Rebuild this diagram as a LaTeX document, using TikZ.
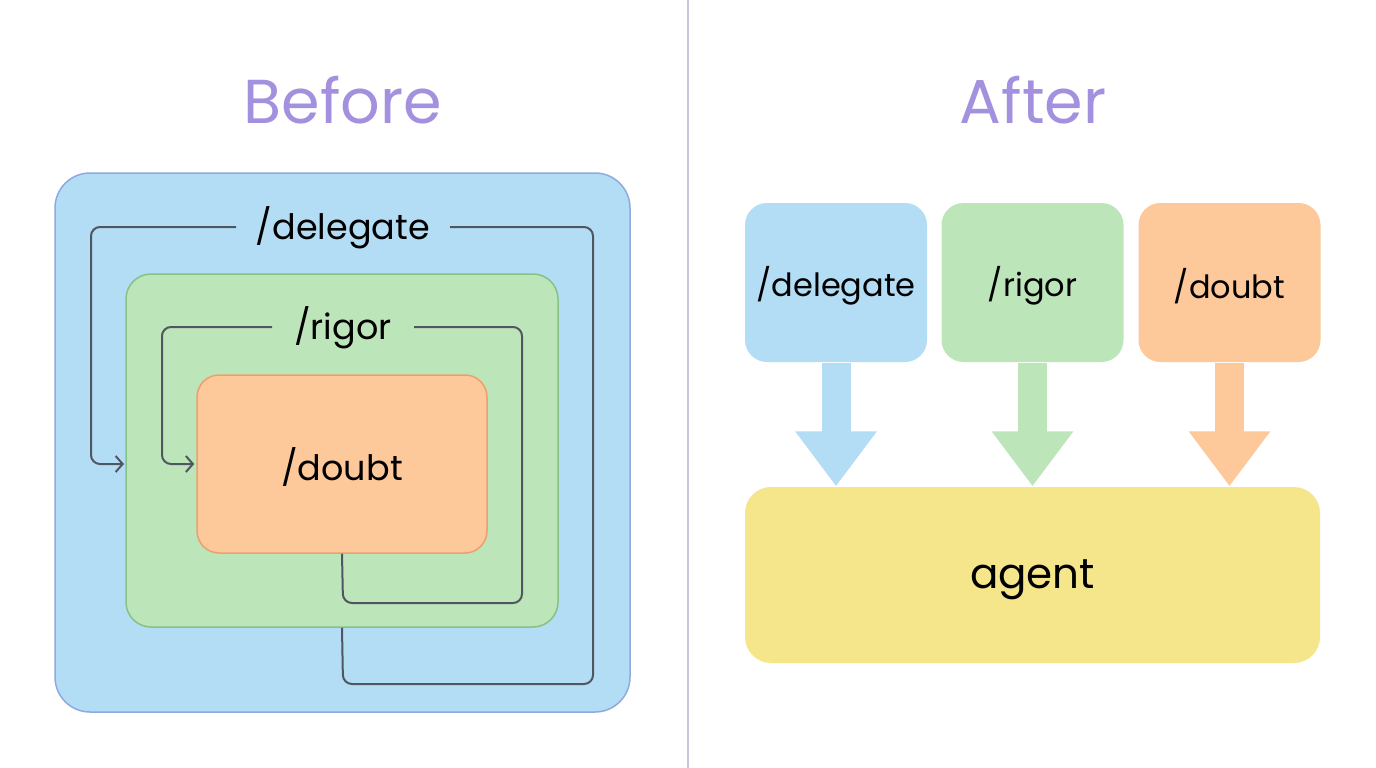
\documentclass[tikz,border=0pt]{standalone}
\usepackage{fontspec}
\setmainfont{Poppins}
\usetikzlibrary{arrows.meta}
\definecolor{bluef}{HTML}{B3DCF5}
\definecolor{blued}{HTML}{8EAADF}
\definecolor{greenf}{HTML}{BDE5BA}
\definecolor{greend}{HTML}{86C284}
\definecolor{orangef}{HTML}{FDC89A}
\definecolor{oranged}{HTML}{EDA06E}
\definecolor{yellowf}{HTML}{F5E68C}
\definecolor{titlec}{HTML}{A390DE}
\definecolor{linec}{HTML}{50565F}
\definecolor{divc}{HTML}{C9C5DD}
\begin{document}
\begin{tikzpicture}[x=1pt,y=-1pt,
  box/.style={rectangle, line width=1.5pt, inner sep=0pt},
  title/.style={font=\fontsize{62}{70}\selectfont, text=titlec},
  lbl/.style={font=\fontsize{35}{40}\selectfont, text=black, inner sep=0pt},
  rlbl/.style={font=\fontsize{32}{38}\selectfont, text=black, inner sep=0pt},
  loopline/.style={draw=linec, line width=2pt, rounded corners=9pt},
  fat/.style={line width=29pt, -{Triangle[length=55pt,width=78pt]}}]
\useasboundingbox[fill=white] (0,0) rectangle (1376,768);
% divider
\coordinate (dtop) at (688,0);
\coordinate (dbot) at (688,768);
\draw[divc, line width=2pt] (dtop) -- (dbot);
% titles
\node[title] (tbefore) at (343,100) {Before};
\node[title] (tafter) at (1033,100) {After};
% left nested boxes
\node[box, fill=bluef, draw=blued, rounded corners=35pt, minimum width=575pt, minimum height=539pt] (outer) at (342.5,442.5) {};
\node[box, fill=greenf, draw=greend, rounded corners=25pt, minimum width=432pt, minimum height=353pt] (mid) at (342,450.5) {};
\node[box, fill=orangef, draw=oranged, rounded corners=22pt, minimum width=290pt, minimum height=178pt] (inner) at (342,464) {};
\node[lbl] (ldel) at (343,228) {/delegate};
\node[lbl] (lrig) at (343,328) {/rigor};
\node[lbl] (ldou) at (342,467) {/doubt};
% delegate loop
\coordinate (dA) at (236,227);
\coordinate (dB) at (450,227);
\coordinate (midin) at (124,464);
\draw[loopline, -{Straight Barb[length=7pt,width=16pt]}] (dA) -- (91,227) -- (91,464) -- (midin);
\draw[loopline] (dB) -- (593,227) -- (593,684) -- (343,684) -- (mid.south);
% rigor loop
\coordinate (rA) at (272,327);
\coordinate (rB) at (414,327);
\draw[loopline, -{Straight Barb[length=7pt,width=16pt]}] (rA) -- (162,327) -- (162,464) -- ([xshift=-2pt]inner.west);
\draw[loopline] (rB) -- (522,327) -- (522,603) -- (343,603) -- (inner.south);
% right side
\node[box, fill=bluef, rounded corners=22pt, minimum width=182pt, minimum height=159pt] (rdel) at (836,282.5) {};
\node[box, fill=greenf, rounded corners=22pt, minimum width=182pt, minimum height=159pt] (rrig) at (1032.5,282.5) {};
\node[box, fill=orangef, rounded corners=22pt, minimum width=182pt, minimum height=159pt] (rdou) at (1229.5,282.5) {};
\node[rlbl] (tdel) at (836,286) {/delegate};
\node[rlbl] (trig) at (1032.5,286) {/rigor};
\node[rlbl] (tdou) at (1229.5,286) {/doubt};
\node[box, fill=yellowf, rounded corners=26pt, minimum width=575pt, minimum height=176pt] (agent) at (1032.5,575) {};
\node[font=\fontsize{42}{50}\selectfont] (tagent) at (1032.5,580) {agent};
\draw[fat, draw=bluef, fill=bluef] (rdel.south) -- (rdel.south |- agent.north);
\draw[fat, draw=greenf, fill=greenf] (rrig.south) -- (rrig.south |- agent.north);
\draw[fat, draw=orangef, fill=orangef] (rdou.south) -- (rdou.south |- agent.north);
\end{tikzpicture}
\end{document}
